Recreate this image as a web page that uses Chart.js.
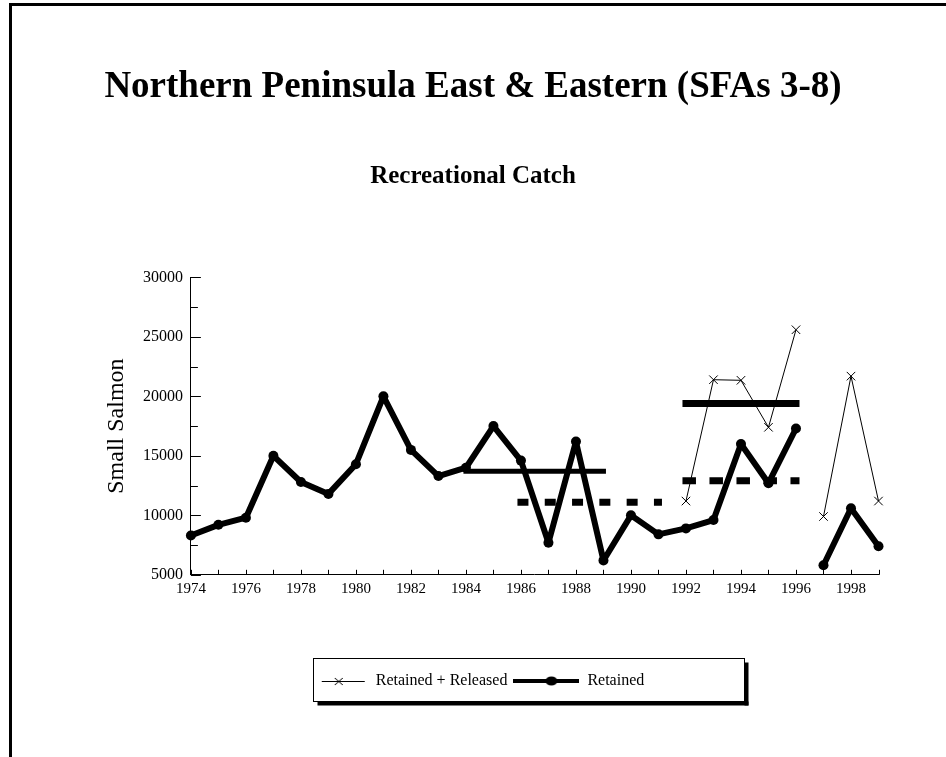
<!DOCTYPE html>
<html><head><meta charset="utf-8">
<script src="https://cdn.jsdelivr.net/npm/chart.js@4.4.1/dist/chart.umd.min.js"></script>
<style>html,body{margin:0;padding:0;background:#fff;}canvas{display:block;}</style>
</head><body>
<canvas id="c" width="946" height="757"></canvas>
<script>
// ---- data ----
const years = [1974,1975,1976,1977,1978,1979,1980,1981,1982,1983,1984,1985,1986,1987,1988,1989,1990,1991,1992,1993,1994,1995,1996,1997,1998,1999];
const retained = [8300,9200,9800,15000,12800,11800,14300,20000,15500,13300,14000,17500,14600,7700,16200,6200,10000,8400,8900,9600,16000,12700,17300,5800,10600,7400];
const releasedYears = [1992,1993,1994,1995,1996,1997,1998,1999];
const retainedReleased = [11200,21400,21350,17400,25600,9900,21700,11200];
const seriesBreakAfter = 1996;
const meanStart = [1984,1986,1992,1992];
const meanEnd = [1989,1991,1996,1996];
const meanValue = [13700,11100,19400,12900];
const xTickLabels = [1974,1976,1978,1980,1982,1984,1986,1988,1990,1992,1994,1996,1998];
const yTickLabels = [5000,10000,15000,20000,25000,30000];
const seriesNames = ['Retained + Released','Retained'];
const titleText = 'Northern Peninsula East & Eastern (SFAs 3-8)';
const subtitleText = 'Recreational Catch';
const yAxisTitle = 'Small Salmon';

// ---- styles ----
const FONT = "'Liberation Serif', 'Times New Roman', serif";
const meanStyles = [
  {width:5, dash:[]},
  {width:7, dash:[4,23.3]},
  {width:7, dash:[]},
  {width:7, dash:[6.5,20.5]}
];

function legendSymbol(kind){
  const c = document.createElement('canvas'); c.width = 66; c.height = 16;
  const g = c.getContext('2d'); g.strokeStyle = '#000'; g.fillStyle = '#000';
  if (kind === 'cross') {
    g.lineWidth = 1; g.beginPath(); g.moveTo(20,8.5); g.lineTo(63,8.5); g.stroke();
    g.beginPath(); g.moveTo(33,5); g.lineTo(41,12); g.moveTo(33,12); g.lineTo(41,5); g.stroke();
  } else {
    g.lineWidth = 4; g.beginPath(); g.moveTo(0,8); g.lineTo(66,8); g.stroke();
    g.beginPath(); g.ellipse(38,8,6,4.5,0,0,Math.PI*2); g.fill();
  }
  return c;
}
const legendSymbols = [legendSymbol('cross'), legendSymbol('dot')];

const gapSegment = { borderColor: ctx => ctx.p0.parsed.x === seriesBreakAfter ? 'rgba(0,0,0,0)' : '#000' };

const datasets = [
  {
    label: seriesNames[0],
    data: releasedYears.map((x,i)=>({x, y: retainedReleased[i]})),
    borderColor:'#000', backgroundColor:'#000', borderWidth:1,
    pointStyle:'crossRot', pointRadius:6, pointBorderWidth:1, pointBorderColor:'#000',
    segment: gapSegment, order: 1, clip: 12
  },
  {
    label: seriesNames[1],
    data: years.map((x,i)=>({x, y: retained[i]})),
    borderColor:'#000', backgroundColor:'#000', borderWidth:6, borderJoinStyle:'round',
    pointStyle:'circle', pointRadius:5, pointBorderWidth:0, pointBackgroundColor:'#000',
    segment: gapSegment, order: 0, clip: 12
  }
];
meanValue.forEach((v,i)=>{
  datasets.push({
    label: 'mean'+i,
    data: [{x: meanStart[i], y: v}, {x: meanEnd[i], y: v}],
    borderColor:'#000', borderWidth: meanStyles[i].width, borderDash: meanStyles[i].dash,
    borderCapStyle:'square', pointRadius:0, order: 2
  });
});

const decor = {
  id:'decor',
  beforeDraw(chart){
    const ctx = chart.ctx; ctx.save();
    ctx.fillStyle = '#fff'; ctx.fillRect(0,0,chart.width,chart.height);
    ctx.fillStyle = '#000';
    ctx.fillRect(9,3,chart.width-9,3);
    ctx.fillRect(9,3,3,chart.height-3);
    ctx.restore();
  },
  afterDraw(chart){
    const ctx = chart.ctx; ctx.save();
    ctx.strokeStyle = '#000'; ctx.lineWidth = 1;
    const xs = chart.scales.x, ys = chart.scales.y, ca = chart.chartArea;
    ctx.beginPath();
    xs.ticks.forEach(t=>{ const px = Math.round(xs.getPixelForValue(t.value))+0.5; ctx.moveTo(px, ca.bottom); ctx.lineTo(px, ca.bottom-5); });
    ys.ticks.forEach(t=>{ const py = Math.round(ys.getPixelForValue(t.value))+0.5; const len = yTickLabels.includes(t.value) ? 10 : 7; ctx.moveTo(ca.left, py); ctx.lineTo(ca.left+len, py); });
    ctx.stroke();
    // legend frame with shadow
    const lg = chart.legend;
    if (lg && lg.lineWidths) {
      const pad = lg.options.labels.padding;
      const titleH = lg._computeTitleHeight ? lg._computeTitleHeight() : 0;
      const itemTop = lg.top + pad + titleH;
      const startX = (lg.left + pad + lg.right - lg.lineWidths[0]) / 2;
      const L = Math.round(startX + 11)+0.5, R = Math.round(startX + 442)+0.5, T = Math.round(itemTop - 15)+0.5, B = Math.round(itemTop + 28)+0.5;
      ctx.strokeRect(L, T, R-L, B-T);
      ctx.fillStyle = '#000';
      ctx.fillRect(L+4, B, R-L, 4);
      ctx.fillRect(R, T+4, 4, B-T);
    }
    ctx.restore();
  }
};

Chart.defaults.color = '#000';
Chart.defaults.font.family = FONT;

new Chart(document.getElementById('c'), {
  type:'line',
  data:{ datasets },
  options:{
    responsive:false, animation:false, devicePixelRatio:1,
    layout:{ padding:{ left:67.5, right:67.5, top:0, bottom:58 } },
    plugins:{
      title:{ display:true, text:titleText, color:'#000', font:{family:FONT, size:37, weight:'bold'}, padding:{top:65, bottom:0} },
      subtitle:{ display:true, text:subtitleText, color:'#000', font:{family:FONT, size:25, weight:'bold'}, padding:{top:52, bottom:86} },
      legend:{
        display:true, position:'bottom',
        title:{ display:true, text:' ', font:{size:1}, padding:{top:63, bottom:0} },
        labels:{
          usePointStyle:true, pointStyleWidth:66, padding:6, color:'#000',
          font:{family:FONT, size:16},
          generateLabels: chart => seriesNames.map((name,i)=>({
            text:name, pointStyle:legendSymbols[i], datasetIndex:i, hidden:false,
            fillStyle:'#000', strokeStyle:'#000', lineWidth:0, fontColor:'#000'
          }))
        }
      },
      tooltip:{ enabled:false }
    },
    scales:{
      x:{
        type:'linear', min:1974, max:1999,
        grid:{ display:false, drawTicks:false },
        border:{ display:true, color:'#000', width:1 },
        ticks:{ stepSize:1, autoSkip:false, maxRotation:0, minRotation:0, padding:5, color:'#000',
          font:{family:FONT, size:15},
          callback: v => xTickLabels.includes(v) ? String(v) : '' }
      },
      y:{
        type:'linear', min:5000, max:30000,
        grid:{ display:false, drawTicks:false },
        border:{ display:true, color:'#000', width:1 },
        title:{ display:true, text:yAxisTitle, color:'#000', font:{family:FONT, size:24}, padding:{top:35, bottom:3.6} },
        ticks:{ stepSize:2500, autoSkip:false, padding:8, color:'#000',
          font:{family:FONT, size:16},
          callback: v => yTickLabels.includes(v) ? String(v) : '' }
      }
    }
  },
  plugins:[decor]
});
</script>
</body></html>
